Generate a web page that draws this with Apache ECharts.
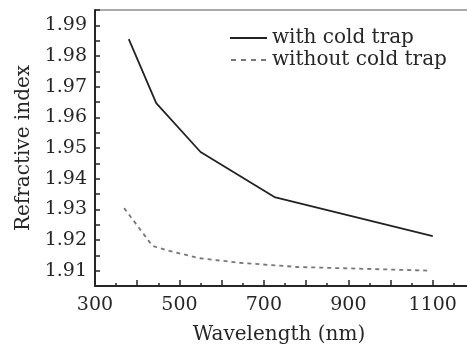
<!DOCTYPE html>
<html lang="en">
<head>
    <meta charset="UTF-8">
    <title>Refractive index</title>
    <script src="https://cdn.jsdelivr.net/npm/echarts@6/dist/echarts.min.js"></script>
    <style>
        body { margin: 0; background: #fff; }
        #chart { width: 467px; height: 352px; }
    </style>
</head>
<body>
    <div id="chart"></div>
    <script>
        // data: [wavelength nm, refractive index]
        var withTrap = [[380, 1.9855], [445, 1.9646], [550, 1.9487], [725, 1.9340], [1100, 1.9213]];
        var withoutTrap = [[369, 1.9304], [436, 1.9181], [467, 1.9168], [545, 1.9141], [640, 1.9126], [780, 1.9112], [1095, 1.9100]];
        var seriesNames = ['with cold trap', 'without cold trap'];

        var font = 'DejaVu Serif';
        var ink = '#262626';

        // legend keys: a solid bar and a dashed bar
        var solidIcon = 'path://M0,0H37V2H0Z';
        var dashIcon = 'path://M0,0H5V2H0Z M10,0H15V2H10Z M20,0H25V2H20Z M30,0H35V2H30Z';

        var chart = echarts.init(document.getElementById('chart'));
        chart.setOption({
            animation: false,
            textStyle: { fontFamily: font, color: ink },
            grid: {
                left: 95, right: -8, top: 10, bottom: 66,
                outerBoundsMode: 'none',
                containLabel: false,
                show: true, borderColor: '#555', borderWidth: 1
            },
            legend: {
                orient: 'vertical',
                left: 225, top: 22,
                itemWidth: 37, itemHeight: 2, itemGap: 0,
                textStyle: { fontFamily: font, fontSize: 20, color: ink, lineHeight: 22 },
                data: [
                    { name: seriesNames[0], icon: solidIcon },
                    { name: seriesNames[1], icon: dashIcon }
                ]
            },
            xAxis: {
                type: 'value',
                min: 300, max: 1200, interval: 100,
                name: 'Wavelength (nm)',
                nameLocation: 'middle', nameGap: 39,
                nameTextStyle: { fontFamily: font, fontSize: 20, color: ink, padding: [0, 12, 0, 0] },
                axisLine: { lineStyle: { color: ink, width: 2 } },
                axisTick: { inside: true, length: 6, lineStyle: { color: ink, width: 1.5 } },
                minorTick: { show: true, splitNumber: 2, length: 3, lineStyle: { color: ink, width: 1.5 } },
                splitLine: { show: false },
                axisLabel: {
                    fontFamily: font, fontSize: 19, color: ink, margin: 10,
                    formatter: function (v) { return (v - 300) % 200 === 0 ? String(v) : ''; }
                }
            },
            yAxis: {
                type: 'value',
                min: 1.905, max: 1.995, interval: 0.005,
                name: 'Refractive index',
                nameLocation: 'middle', nameGap: 58,
                nameTextStyle: { fontFamily: font, fontSize: 20, color: ink },
                axisLine: { lineStyle: { color: ink, width: 2 } },
                axisTick: { inside: true, length: 5, lineStyle: { color: ink, width: 1.5 } },
                splitLine: { show: false },
                axisLabel: {
                    fontFamily: font, fontSize: 19, color: ink, margin: 8,
                    formatter: function (v) {
                        return Math.round(v * 1000) % 10 === 0 ? v.toFixed(2) : '';
                    }
                }
            },
            series: [
                {
                    name: seriesNames[0],
                    type: 'line',
                    data: withTrap,
                    symbol: 'none',
                    lineStyle: { color: '#222', width: 1.8 },
                    itemStyle: { color: '#222' }
                },
                {
                    name: seriesNames[1],
                    type: 'line',
                    data: withoutTrap,
                    symbol: 'none',
                    lineStyle: { color: '#777', width: 1.8, type: [4, 4] },
                    itemStyle: { color: '#777' }
                }
            ]
        });
    </script>
</body>
</html>
